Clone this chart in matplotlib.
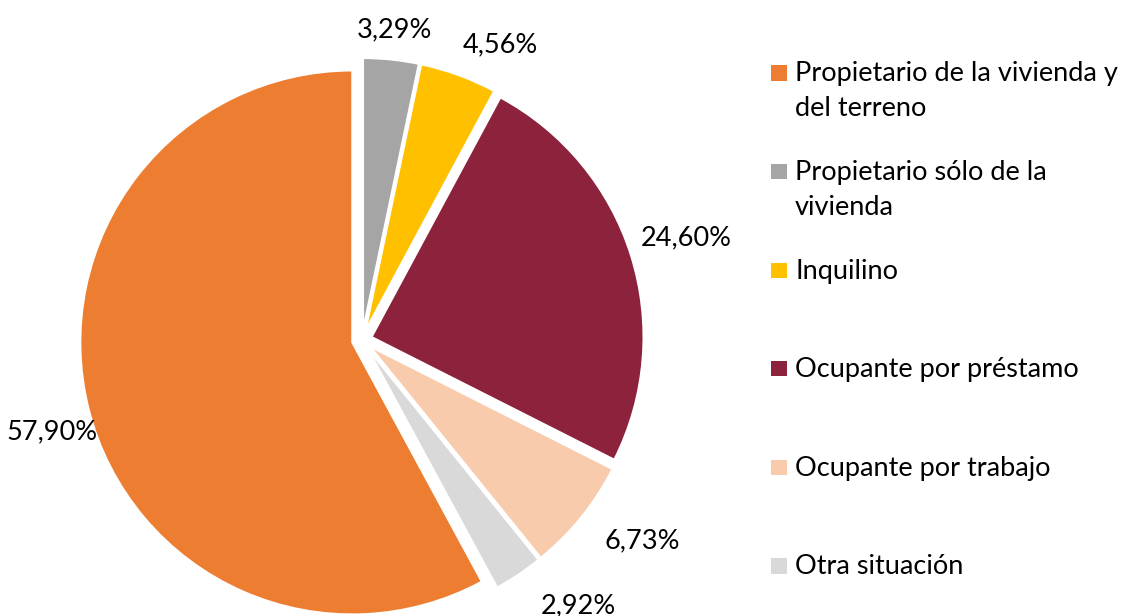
import numpy as np
import matplotlib
matplotlib.use("Agg")
import matplotlib.pyplot as plt

plt.rcParams['font.family'] = ['Lato', 'DejaVu Sans']

# datos
categorias = ["Propietario de la vivienda y\ndel terreno",
              "Propietario sólo de la\nvivienda",
              "Inquilino",
              "Ocupante por préstamo",
              "Ocupante por trabajo",
              "Otra situación"]
valores = [57.90, 3.29, 4.56, 24.60, 6.73, 2.92]
colores = ["#ED7D31", "#A5A5A5", "#FFC000", "#8C223C", "#F8CBAD", "#D9D9D9"]

W, H = 1121, 616
fig = plt.figure(figsize=(W/100, H/100), dpi=100)
ax = fig.add_axes([0, 0, 1, 1])

total = sum(valores)
inicio = 90 - 360*(1 - valores[0]/total)   # el naranja termina arriba
cx, cy, R = 362, H-340, 272

wedges, textos = ax.pie(valores, colors=colores, startangle=inicio,
	counterclock=False, center=(cx, cy), radius=R,
	explode=[10]*len(valores),
	wedgeprops=dict(edgecolor='white', linewidth=1.5))

# etiquetas de porcentaje: distancia relativa al radio y giro (grados, horario)
# para imitar donde las deja excel
dist_etiq = [1.19, 1.147, 1.199, 1.25, 1.268, 1.26]
giro_etiq = [-2.3, 0, 5, 0, -3.4, -5.5]
for w, v, d, g in zip(wedges, valores, dist_etiq, giro_etiq):
	ang = np.deg2rad((w.theta1 + w.theta2)/2 - g)
	txt = '{:.2f}'.format(v/total*100).replace('.', ',') + '%'
	ax.text(cx + d*R*np.cos(ang), cy + d*R*np.sin(ang), txt, fontsize=19.5,
		ha='center', va='center', color='black')

ax.set_xlim(0, W)
ax.set_ylim(0, H)
ax.set_aspect('equal')
ax.axis('off')

# leyenda hecha a mano (marcador alineado con la primera linea)
y0 = 73
paso = 98.6
interlinea = 35
for i in range(len(categorias)):
	y = H - (y0 + i*paso)
	ax.scatter([779], [y], marker='s', s=120, color=colores[i], edgecolors='none')
	for j, linea in enumerate(categorias[i].split('\n')):
		ax.text(795, y - 8.5 - j*interlinea, linea, fontsize=19.5,
			va='baseline', ha='left', color='black')

plt.savefig('out.png', dpi=100)
